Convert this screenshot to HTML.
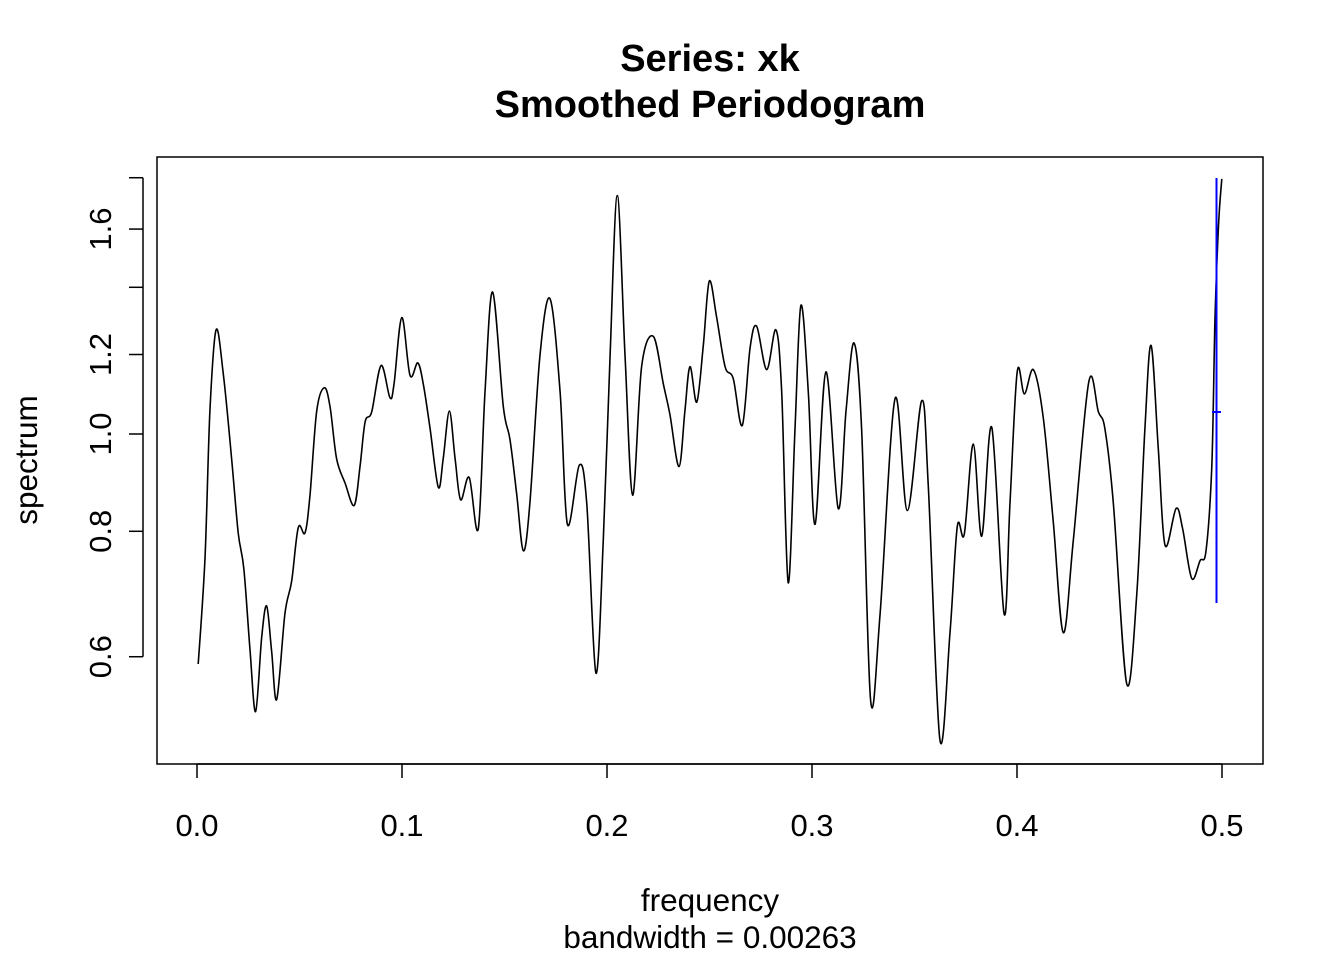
<!DOCTYPE html>
<html><head><meta charset="utf-8"><style>
html,body{margin:0;padding:0;background:#fff;}
svg{display:block;font-family:"Liberation Sans",Arial,sans-serif;}
</style></head><body>
<svg id="chart" width="1344" height="960" viewBox="0 0 1344 960" xmlns="http://www.w3.org/2000/svg">
<rect width="1344" height="960" fill="#fff"/>
<text x="710" y="71" font-size="38" font-weight="bold" text-anchor="middle">Series: xk</text>
<text x="710" y="117" font-size="38" font-weight="bold" text-anchor="middle">Smoothed Periodogram</text>
<rect x="157" y="157" width="1106" height="607" fill="none" stroke="#000" stroke-width="1.5"/>
<g id="xaxis"></g>
<g id="yaxis"></g>
<text x="710" y="911" font-size="31.5" text-anchor="middle">frequency</text>
<text x="710" y="948" font-size="31.5" text-anchor="middle">bandwidth = 0.00263</text>
<text transform="translate(37,460) rotate(-90)" font-size="31.5" text-anchor="middle">spectrum</text>
<path id="series" fill="none" stroke="#000" stroke-width="1.6"/>
<g stroke="#0000ff" stroke-width="2">
<line x1="1216.5" y1="178" x2="1216.5" y2="603"/>
<line x1="1212" y1="412" x2="1221" y2="412"/>
</g>
</svg>
<script>
const freq=[.0006,.0039,.0063,.0093,.0128,.0169,.0201,.0229,.0259,.0286,.0316,.0340,.0364,.0389,.0429,.0462,.0494,.0527,.0551,.0584,.0621,.0649,.0681,.0722,.0767,.0795,.0820,.0852,.0898,.0941,.0961,.0999,.1039,.1077,.1104,.1137,.1177,.1201,.1231,.1259,.1286,.1328,.1372,.1405,.1442,.1494,.1527,.1560,.1592,.1624,.1673,.1722,.1771,.1807,.1865,.1901,.1946,.1982,.2015,.2050,.2088,.2125,.2169,.2226,.2275,.2307,.2351,.2380,.2405,.2438,.2470,.2499,.2535,.2576,.2616,.2660,.2698,.2730,.2779,.2824,.2852,.2884,.2917,.2946,.2982,.3015,.3068,.3128,.3166,.3205,.3242,.3286,.3332,.3405,.3465,.3535,.3567,.3624,.3673,.3709,.3743,.3787,.3828,.3877,.3937,.3966,.4001,.4036,.4080,.4128,.4177,.4226,.4275,.4350,.4397,.4429,.4470,.4535,.4584,.4624,.4654,.4689,.4722,.4776,.4808,.4852,.4893,.4922,.4950,.4966,.4983,.4999];
const spectrum=[.590,.752,1.054,1.270,1.150,.945,.797,.733,.608,.529,.629,.674,.608,.544,.662,.714,.807,.797,.869,1.054,1.112,1.065,.945,.894,.849,.928,1.028,1.052,1.170,1.087,1.121,1.306,1.144,1.177,1.121,1.012,.885,.945,1.054,.945,.860,.905,.805,1.101,1.385,1.065,.987,.869,.765,.854,1.198,1.364,1.101,.813,.931,.854,.578,.785,1.198,1.728,1.198,.869,1.167,1.251,1.121,1.046,.928,1.054,1.167,1.076,1.228,1.420,1.306,1.167,1.135,1.020,1.219,1.280,1.159,1.270,1.101,.711,1.012,1.343,1.101,.813,1.153,.843,1.054,1.232,1.012,.543,.662,1.084,.839,1.079,.891,.496,.634,.809,.795,.977,.791,1.015,.662,.854,1.153,1.096,1.159,1.039,.817,.634,.785,1.127,1.052,1.012,.854,.564,.691,1.012,1.225,.970,.775,.843,.805,.718,.748,.765,.928,1.306,1.613,1.795];
const xTicks=[0,0.1,0.2,0.3,0.4,0.5];
const xTickLabels=["0.0","0.1","0.2","0.3","0.4","0.5"];
const yTicks=[0.6,0.8,1.0,1.2,1.4,1.6,1.8];
const yTickLabels=["0.6","0.8","1.0","1.2","","1.6",""];
const NS="http://www.w3.org/2000/svg";
const xs=f=>197+2050*f;
const ys=v=>434-436*Math.log(v);
const xa=document.getElementById('xaxis'),ya=document.getElementById('yaxis');
function mk(tag,attrs,parent){const e=document.createElementNS(NS,tag);for(const k in attrs)e.setAttribute(k,attrs[k]);parent.appendChild(e);return e;}
let l=mk('line',{x1:xs(xTicks[0]),x2:xs(xTicks[xTicks.length-1]),y1:764,y2:764,stroke:'#000','stroke-width':1.5},xa);


xTicks.forEach((t,i)=>{
 const tk=mk('line',{x1:xs(t),x2:xs(t),y1:764,y2:778,stroke:'#000','stroke-width':1.5},xa);
 
 
 const tx=mk('text',{x:xs(t),y:836,'font-size':31,'text-anchor':'middle'},xa);
 tx.textContent=xTickLabels[i];
 
 
});
l=mk('line',{x1:143,x2:143,y1:ys(yTicks[yTicks.length-1]),y2:ys(yTicks[0]),stroke:'#000','stroke-width':1.5},ya);


yTicks.forEach((t,i)=>{
 const y=ys(t);
 const tk=mk('line',{x1:129,x2:143,y1:y,y2:y,stroke:'#000','stroke-width':1.5},ya);
 
 
 if(yTickLabels[i]){
  const tx=mk('text',{transform:`translate(111,${y}) rotate(-90)`,'font-size':31,'text-anchor':'middle'},ya);
  tx.textContent=yTickLabels[i];
  
  
 }
});
const P=freq.map((f,i)=>[xs(f),ys(spectrum[i])]);
let d='M'+P[0][0].toFixed(1)+','+P[0][1].toFixed(1);
for(let i=0;i<P.length-1;i++){
 const p0=P[Math.max(0,i-1)],p1=P[i],p2=P[i+1],p3=P[Math.min(P.length-1,i+2)];
 const c1=[p1[0]+(p2[0]-p0[0])/6,p1[1]+(p2[1]-p0[1])/6];
 const c2=[p2[0]-(p3[0]-p1[0])/6,p2[1]-(p3[1]-p1[1])/6];
 d+=` C${c1[0].toFixed(1)},${c1[1].toFixed(1)} ${c2[0].toFixed(1)},${c2[1].toFixed(1)} ${p2[0].toFixed(1)},${p2[1].toFixed(1)}`;
}
document.getElementById('series').setAttribute('d',d);
</script>
</body></html>
